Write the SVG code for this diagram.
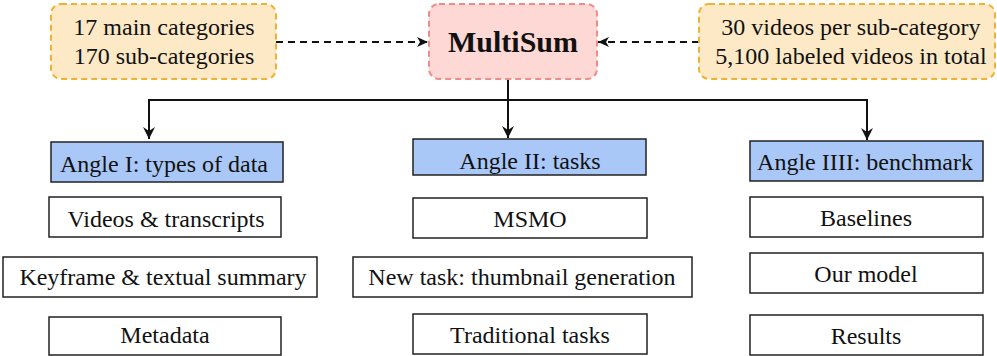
<svg xmlns="http://www.w3.org/2000/svg" width="997" height="356" viewBox="0 0 997 356">
<style>
text{font-family:"Liberation Serif","Times New Roman",serif;font-size:24px;fill:#111;text-anchor:middle}
.w{fill:#fff;stroke:#222;stroke-width:1.5}
.h{fill:#a9c8f7;stroke:#222;stroke-width:1.5}
.o{fill:#fde9c6;stroke:#f0b232;stroke-width:2;stroke-dasharray:6 4}
.p{fill:#fdd8d4;stroke:#f28a88;stroke-width:2;stroke-dasharray:6 4}
.c{fill:none;stroke:#111;stroke-width:2}
.d{fill:none;stroke:#111;stroke-width:2;stroke-dasharray:7 5}
</style>
<defs>
<marker id="a" markerWidth="12" markerHeight="12" refX="11" refY="6" orient="auto" markerUnits="userSpaceOnUse">
<path d="M0,1 L11,6 L0,11 L3,6 Z" fill="#111"/>
</marker>
<marker id="s" markerWidth="14" markerHeight="14" refX="12" refY="7" orient="auto" markerUnits="userSpaceOnUse">
<path d="M0,1 L12,7 L0,13 L4,7 Z" fill="#111"/>
</marker>
</defs>
<g id="connectors">
<path class="d" d="M276,42 H428" marker-end="url(#a)"/>
<path class="d" d="M699,42 H598" marker-end="url(#a)"/>
<path class="c" d="M508,79 V100"/>
<path class="c" d="M149,100 H867"/>
<path class="c" d="M149,99 V139" marker-end="url(#s)"/>
<path class="c" d="M508,99 V138" marker-end="url(#s)"/>
<path class="c" d="M867,99 V140" marker-end="url(#s)"/>
</g>
<g id="stats-left"><rect class="o" x="51" y="4" width="225" height="75" rx="10"/><text x="164" y="35">17 main categories</text><text x="164" y="64">170 sub-categories</text></g>
<g id="multisum"><rect class="p" x="429" y="4" width="168" height="75" rx="10"/><text x="513" y="52" style="font-size:30px;font-weight:bold">MultiSum</text></g>
<g id="stats-right"><rect class="o" x="699" y="4" width="296" height="75" rx="10"/><text x="851" y="35">30 videos per sub-category</text><text x="851" y="64">5,100 labeled videos in total</text></g>
<g id="angle1"><rect class="h" x="51" y="142" width="232" height="40"/><text x="164" y="172">Angle I: types of data</text></g>
<g id="videos"><rect class="w" x="49" y="197" width="232" height="40"/><text x="166" y="227">Videos &amp; transcripts</text></g>
<g id="keyframe"><rect class="w" x="3" y="257" width="314" height="40"/><text x="163" y="285">Keyframe &amp; textual summary</text></g>
<g id="metadata"><rect class="w" x="49" y="317" width="232" height="38"/><text x="165" y="343">Metadata</text></g>
<g id="angle2"><rect class="h" x="413" y="139" width="233" height="36"/><text x="530" y="169">Angle II: tasks</text></g>
<g id="msmo"><rect class="w" x="413" y="198" width="234" height="40"/><text x="530" y="227">MSMO</text></g>
<g id="newtask"><rect class="w" x="353" y="257" width="339" height="40"/><text x="522" y="285">New task: thumbnail generation</text></g>
<g id="traditional"><rect class="w" x="413" y="314" width="234" height="40"/><text x="530" y="343">Traditional tasks</text></g>
<g id="angle3"><rect class="h" x="750" y="141" width="233" height="40"/><text x="865" y="170">Angle IIII: benchmark</text></g>
<g id="baselines"><rect class="w" x="750" y="197" width="233" height="40"/><text x="866" y="226">Baselines</text></g>
<g id="ourmodel"><rect class="w" x="750" y="253" width="233" height="40"/><text x="866" y="282">Our model</text></g>
<g id="results"><rect class="w" x="750" y="315" width="233" height="40"/><text x="866" y="344">Results</text></g>
</svg>
